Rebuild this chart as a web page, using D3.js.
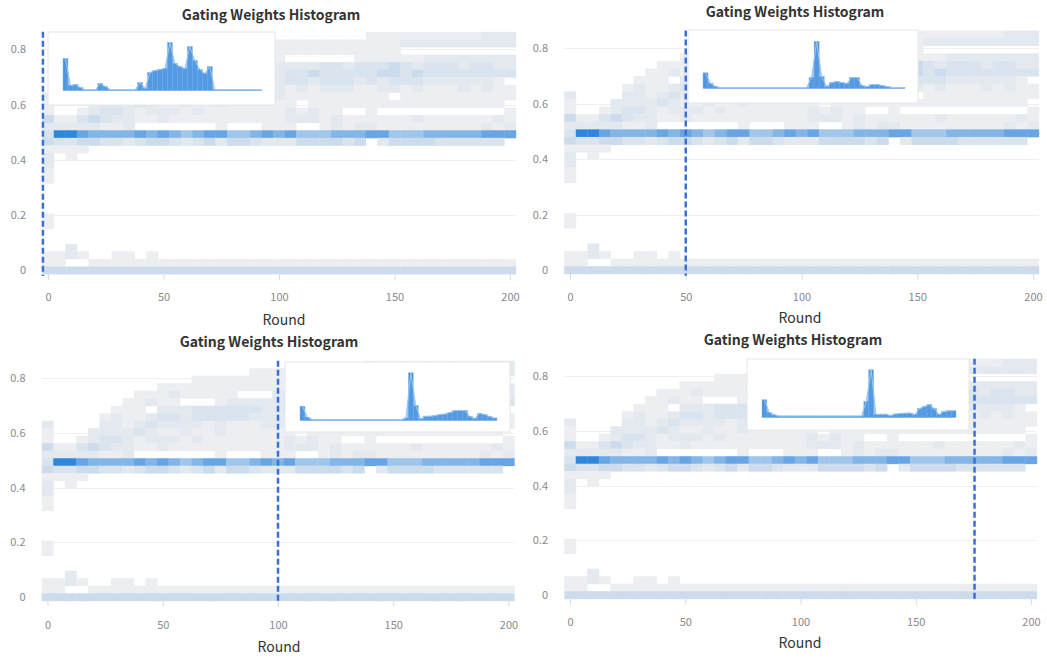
<!DOCTYPE html>
<html><head><meta charset="utf-8">
<script src="https://cdn.jsdelivr.net/npm/d3@7"></script>
<style>
body{margin:0;background:#fff}
svg{display:block;font-family:"Noto Sans CJK SC","Noto Sans",sans-serif}
</style>
</head><body>
<svg id="chart" width="1047" height="658"></svg>
<script>
// ---------------- data ----------------
const rounds = d3.range(0, 201, 5);            // heatmap column centres (Round)
const binStep = 0.0274;                         // weight bin height
const weightBins = d3.range(32).map(i => i * binStep); // heatmap row centres
// intensity level per cell (0 = empty, 9 = densest); first string = top row (highest weight)
const intensityRows = [
  "00000 00000 00000 00000 00000 00011 11111 11122 2",
  "00000 00000 00000 00011 11111 11111 12222 22222 2",
  "00000 00000 00011 11111 11111 11111 10000 00000 0",
  "00000 00000 11111 11111 10000 00111 11122 22222 2",
  "00000 00011 12111 11000 22223 32333 43233 32332 2",
  "00000 00112 11000 12222 23343 33334 43433 33333 3",
  "00000 01110 22233 33332 23323 33232 33322 22221 0",
  "00000 12112 33233 33322 21212 22112 21211 12121 1",
  "20000 22123 22221 21112 21111 11111 01111 11111 1",
  "10002 22232 11211 21111 11011 11111 11111 11111 0",
  "10012 33212 22121 11111 12121 10010 00000 00000 1",
  "41134 32211 21111 11111 12221 21111 11211 11112 1",
  "22222 11200 00000 10001 11001 21221 11111 11121 2",
  "39987 77787 87678 86678 78666 77788 66677 77788 8",
  "43344 33234 43234 24432 22444 43402 44443 33333 0",
  "11110 00000 00000 00000 00000 00000 00000 00000 0",
  "20100 00000 00000 00000 00000 00000 00000 00000 0",
  "20000 00000 00000 00000 00000 00000 00000 00000 0",
  "10000 00000 00000 00000 00000 00000 00000 00000 0",
  "10000 00000 00000 00000 00000 00000 00000 00000 0",
  "00000 00000 00000 00000 00000 00000 00000 00000 0",
  "00000 00000 00000 00000 00000 00000 00000 00000 0",
  "00000 00000 00000 00000 00000 00000 00000 00000 0",
  "00000 00000 00000 00000 00000 00000 00000 00000 0",
  "10000 00000 00000 00000 00000 00000 00000 00000 0",
  "10000 00000 00000 00000 00000 00000 00000 00000 0",
  "00000 00000 00000 00000 00000 00000 00000 00000 0",
  "00000 00000 00000 00000 00000 00000 00000 00000 0",
  "00200 00000 00000 00000 00000 00000 00000 00000 0",
  "11210 01101 00000 00000 00000 00000 00000 00000 0",
  "11001 11111 11111 11111 11111 11111 11111 11111 1",
  "44444 44444 44444 44444 44444 44444 44444 44444 4"
];
const levelColors = ["none","#eceef1","#e4e9ef","#d9e4ef","#ccdcec","#b8d1ec","#a0c6ea","#83b5e7","#67a5e4","#2f87dc"];
const xTicks = [0, 50, 100, 150, 200];
const yTicks = [0, 0.2, 0.4, 0.6, 0.8];
const markerRounds = [-2.2, 50, 100, 175.5];
// inset histograms (40 bins, relative counts) for the marked rounds
const histRound0   = [32,5,6,3,0.7,0.7,0.7,7,4,1,0.7,0.7,0.7,0.7,0.7,8,2,18,20,21,22,48,27,24,22,44,30,21,17,24,1,0.7,0.7,0.7,0.7,0.7,0.7,0.7,0.7,0.7];
const histRound50  = [15.7,5,2,0.7,0.7,0.7,0.7,0.7,0.7,0.7,0.7,0.7,0.7,0.7,0.7,0.7,0.7,0.7,0.7,0.7,0.7,11,47,12,2,6,7,6,5,11,11,3,2,4,4,3,2,1,1,1];
const histRound100 = [14.3,3.3,1,0.8,0.8,0.8,0.8,0.8,0.8,0.8,0.8,0.8,0.8,0.8,0.8,0.8,0.8,0.8,0.8,0.8,0.8,2.5,47.7,15,1.5,4.3,4.3,5,6,6.5,8,10,10,10,4,2,7,6,4,2.5];
const histRound175 = [17.7,5,2.7,1.5,1.5,1.5,1.5,1.5,1.5,1.5,1.5,1.5,1.5,1.5,1.5,1.5,1.5,1.5,1.5,1.5,1.5,16,47.7,3,3.3,3.3,2,3.5,4,4.3,4.5,3,9,11,13,9,3,6,6.7,6.7];
const histograms = [histRound0, histRound50, histRound100, histRound175];
const titleText = "Gating Weights Histogram";
const xAxisTitle = "Round";

// ---------------- layout ----------------
const panels = [
  {x0:48,   x200:510,   y0:270.3, y08:49.3, box:{x:48, y:32, w:227,h:73}, tx:271, ty:19.5, rx:284, ry:325, lb:301},
  {x0:570,  x200:1033,  y0:270,   y08:48,   box:{x:688,y:30, w:230,h:73}, tx:795, ty:17,   rx:800, ry:323, lb:301},
  {x0:47.5, x200:508.5, y0:597,   y08:378,  box:{x:285,y:362,w:225,h:70}, tx:269, ty:347,  rx:279, ry:652, lb:629},
  {x0:570,  x200:1031,  y0:595,   y08:376,  box:{x:747,y:359,w:222,h:71}, tx:793, ty:345,  rx:800, ry:648, lb:626}
];

const cells = [];
intensityRows.forEach((row, r) => {
  const levels = row.replace(/ /g, "").split("").map(Number);
  const bi = weightBins.length - 1 - r;
  levels.forEach((lv, c) => { if (lv > 0) cells.push({round: rounds[c], w: weightBins[bi], lv}); });
});

const svg = d3.select("#chart");

panels.forEach((p, k) => {
  const g = svg.append("g");
  const x = d3.scaleLinear().domain([0, 200]).range([p.x0, p.x200]);
  const y = d3.scaleLinear().domain([0, 0.8]).range([p.y0, p.y08]);
  const half = binStep / 2;
  const left = x(-2.5), right = x(202.5);
  const top = y(weightBins[weightBins.length - 1] + half), bottom = y(-half);

  // gridlines
  g.append("g").selectAll("line").data(yTicks.filter(d => d > 0)).join("line")
    .attr("x1", left).attr("x2", right)
    .attr("y1", d => Math.round(y(d)) + 0.5).attr("y2", d => Math.round(y(d)) + 0.5)
    .attr("stroke", "#efefef").attr("stroke-width", 1);

  // heatmap cells
  g.append("g").selectAll("rect").data(cells).join("rect")
    .attr("x", d => x(d.round - 2.5))
    .attr("width", d => x(d.round + 2.5) - x(d.round - 2.5) + 0.4)
    .attr("y", d => y(d.w + half))
    .attr("height", d => y(d.w - half) - y(d.w + half) + 0.4)
    .attr("fill", d => levelColors[d.lv]);

  // x axis
  const xa = g.append("g").attr("transform", `translate(0,${bottom})`)
    .call(d3.axisBottom(x).tickValues(xTicks).tickSize(6).tickPadding(p.lb - bottom - 6 - 7.8));
  xa.select(".domain").remove();
  xa.selectAll(".tick line").attr("stroke", "#dcdcdc");
  xa.selectAll(".tick text").attr("fill", "#8a8a8a").attr("font-size", 11)
    .attr("font-family", "'Noto Sans CJK SC','Noto Sans',sans-serif");

  // y axis
  const ya = g.append("g").attr("transform", `translate(${left},0)`)
    .call(d3.axisLeft(y).tickValues(yTicks).tickSize(0).tickPadding(left - (p.x0 - 22))
      .tickFormat(d => d === 0 ? "0" : d3.format(".1f")(d)));
  ya.select(".domain").remove();
  ya.selectAll(".tick text").attr("fill", "#8a8a8a").attr("font-size", 11)
    .attr("font-family", "'Noto Sans CJK SC','Noto Sans',sans-serif");

  // title & axis title
  g.append("text").attr("x", p.tx).attr("y", p.ty).attr("text-anchor", "middle")
    .attr("font-size", 14).attr("font-weight", "bold").attr("fill", "#333").text(titleText);
  g.append("text").attr("x", p.rx).attr("y", p.ry).attr("text-anchor", "middle")
    .attr("font-size", 14).attr("fill", "#333").text(xAxisTitle);

  // inset histogram
  const b = p.box;
  const ig = g.append("g");
  ig.append("rect").attr("x", b.x).attr("y", b.y).attr("width", b.w).attr("height", b.h)
    .attr("fill", "#fff").attr("stroke", "#e6e6e6").attr("stroke-width", 1);
  const hist = histograms[k];
  const hx = d3.scaleBand().domain(d3.range(hist.length)).range([b.x + 15, b.x + b.w - 13]).padding(0);
  const base = b.y + 58.5;
  const hy = d3.scaleLinear().domain([0, 48]).range([base, base - 48]);
  ig.append("g").selectAll("rect").data(hist).join("rect")
    .attr("x", (d, i) => hx(i)).attr("width", hx.bandwidth())
    .attr("y", d => hy(d)).attr("height", d => base - hy(d))
    .attr("fill", "#4d94df").attr("stroke", "#86b9ec").attr("stroke-width", 0.5);
  const area = d3.area().x((d, i) => hx(i) + hx.bandwidth() / 2).y0(base).y1(d => hy(d));
  ig.append("path").datum(hist).attr("d", area).attr("fill", "#5b9fe5").attr("fill-opacity", 0.55);
  const line = d3.line().x((d, i) => hx(i) + hx.bandwidth() / 2).y(d => hy(d));
  ig.append("path").datum(hist).attr("d", line).attr("fill", "none")
    .attr("stroke", "#9cc8f0").attr("stroke-width", 1);

  // marker line (drawn last so it stays visible)
  const mx = x(markerRounds[k]);
  g.append("line").attr("x1", mx).attr("x2", mx).attr("y1", top).attr("y2", bottom + 2)
    .attr("stroke", "#3a6fd6").attr("stroke-width", 2.5).attr("stroke-dasharray", "6,3");
});
</script>
</body></html>
